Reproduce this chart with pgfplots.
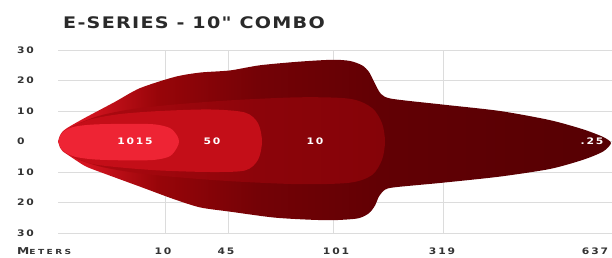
\documentclass[border=0pt]{standalone}
\usepackage{pgfplots}
\pgfplotsset{compat=1.18}
\usepackage{fontspec}
\setmainfont{DejaVu Sans}
\newfontfamily\widefont{DejaVu Sans}[FakeStretch=1.2, LetterSpace=20]
\newfontfamily\metersfont{DejaVu Sans}[FakeStretch=1.3, LetterSpace=35]
\newfontfamily\titlefont{DejaVu Sans}[FakeStretch=1.2, LetterSpace=8]

\definecolor{gridc}{HTML}{DCDCDC}
\definecolor{cA}{HTML}{EE2434}
\definecolor{cB}{HTML}{C40E18}
\definecolor{c1}{HTML}{B20A12}
\definecolor{c2}{HTML}{A0070D}
\definecolor{c3}{HTML}{8C040A}
\definecolor{c4}{HTML}{850308}
\definecolor{o1}{HTML}{D41420}
\definecolor{o2}{HTML}{980509}
\definecolor{o3}{HTML}{740206}
\definecolor{o4}{HTML}{620004}
\definecolor{o5}{HTML}{560003}
\definecolor{titlec}{HTML}{2A2A2A}
\definecolor{tickc}{HTML}{333333}

\pgfdeclarehorizontalshading{outershade}{100bp}{color(0bp)=(o1); color(27.5bp)=(o1); color(34bp)=(o2); color(43bp)=(o3); color(54bp)=(o4); color(75bp)=(o5); color(100bp)=(o5)}
\pgfdeclarehorizontalshading{zonecshade}{100bp}{color(0bp)=(c1); color(25bp)=(c1); color(40bp)=(c2); color(55bp)=(c3); color(75bp)=(c4); color(100bp)=(c4)}

\begin{document}
\begin{tikzpicture}
\useasboundingbox (-58bp,-25bp) rectangle (554bp,233bp);
\begin{axis}[
  at={(0,0)}, anchor=south west,
  x=1bp, y=3.05bp,
  xmin=58, xmax=612, ymin=-30, ymax=30,
  axis line style={draw=none},
  major tick length=0pt,
  ytick={-30,-20,-10,0,10,20,30},
  yticklabels={30,20,10,0,10,20,30},
  xtick={163,226,336,442,595},
  xticklabels={10,45,101,319,637},
  extra x ticks={165,228,333,443},
  extra x tick labels={},
  extra x tick style={xmajorgrids=true},
  ymajorgrids=true,
  major grid style={gridc, line width=0.9bp},
  /pgf/number format/assume math mode=true,
  ticklabel style={font=\widefont\bfseries\fontsize{9}{9}\selectfont, text=tickc, inner sep=0pt},
  yticklabel style={anchor=west, xshift=-41bp},
  xticklabel style={anchor=north, yshift=-15bp},
  clip=false,
]
% outer beam (0.25 lux)
\addplot[draw=none, shading=outershade, smooth, tension=0.45] coordinates {
 (58,0) (60,2) (63,3.4) (68,4.6) (78,6.5) (88,8.3) (115,13) (140,17.5) (175,21.2) (200,22.6)
 (230,23.3) (260,25) (300,26.2) (333,26.8) (350,26.4) (362,25) (369,22.8)
 (375,19) (381,15.6) (392,14) (443,12.1) (500,10) (550,7) (583,4) (603,1.5) (611,-0.5)
 (603,-3.3) (583,-6) (550,-9) (500,-11.5) (443,-13.5) (395,-15) (385,-15.8)
 (379,-18) (375,-21) (369,-23.5) (358,-25.2) (333,-25.8) (307,-25.6) (273,-24.9)
 (230,-23) (200,-21.6) (173,-18.8) (140,-14.8) (115,-11.8) (88,-8.5) (78,-6.6) (68,-4.4) (63,-3.3) (60,-2)
} -- cycle;
% 10 lux zone
\addplot[draw=none, shading=zonecshade, smooth, tension=0.5] coordinates {
 (61,0) (64,3) (78,5.8) (100,8.5) (130,10.5) (170,12) (230,13.5) (300,14.5) (350,14) (372,11) (382,6) (385,0)
 (382,-6) (372,-11) (350,-13.5) (300,-14) (230,-13) (170,-11.5) (130,-10) (100,-8.2) (78,-5.8) (64,-3)
} -- cycle;
% 50 lux zone
\addplot[draw=none, fill=cB, smooth, tension=0.5] coordinates {
 (59.5,0) (62,2.5) (70,4.4) (90,7.2) (120,9) (160,10) (210,10.5) (245,9.5) (258,6) (262,0)
 (258,-6) (245,-9.5) (210,-10) (160,-9.5) (120,-8.5) (90,-7.2) (70,-4.3) (62,-2.5)
} -- cycle;
% 1015 lux zone
\addplot[draw=none, fill=cA, smooth, tension=0.5] coordinates {
 (58.5,0) (60.5,2) (65,3.6) (75,4.9) (95,5.6) (130,5.8) (155,5.6) (170,4.4) (177,2) (179,0)
 (177,-2) (170,-4.8) (155,-6) (130,-6.2) (95,-5.9) (75,-5) (65,-3.5) (60.5,-2)
} -- cycle;
\node[text=white, font=\widefont\bfseries\fontsize{9}{9}\selectfont] at (axis cs:135,0) {1015};
\node[text=white, font=\widefont\bfseries\fontsize{9}{9}\selectfont] at (axis cs:212,0) {50};
\node[text=white, font=\widefont\bfseries\fontsize{9}{9}\selectfont] at (axis cs:315,0) {10};
\node[text=white, font=\widefont\bfseries\fontsize{9}{9}\selectfont] at (axis cs:592,0) {.25};
\end{axis}
\node[anchor=west, inner sep=0pt, text=titlec, font=\titlefont\bfseries\fontsize{16}{16}\selectfont] at (5bp,210.5bp) {E-SERIES - 10" COMBO};
\node[anchor=west, inner sep=0pt, text=tickc, font=\metersfont\bfseries] at (-41bp,-18.5bp) {{\fontsize{9.5}{9.5}\selectfont M}{\fontsize{7}{7}\selectfont ETERS}};
\end{tikzpicture}
\end{document}
